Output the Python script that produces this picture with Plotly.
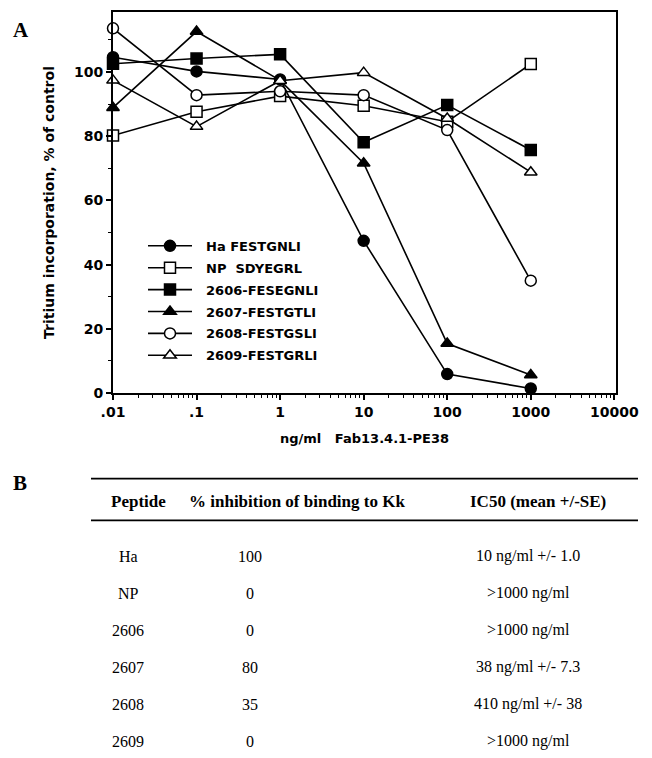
import plotly.graph_objects as go

# ---------------- data (panel A) ----------------
doses = [0.01, 0.1, 1, 10, 100, 1000]
series_names = ["Ha FESTGNLI", "NP\u00a0 SDYEGRL", "2606-FESEGNLI",
                "2607-FESTGTLI", "2608-FESTGSLI", "2609-FESTGRLI"]
ha_vals = [104.6, 100.2, 97.7, 47.4, 5.9, 1.4]
np_vals = [80.2, 87.6, 92.5, 89.5, 84.5, 102.5]
p2606_vals = [102.6, 104.2, 105.5, 78.1, 89.7, 75.7]
p2607_vals = [88.9, 112.6, 97.4, 71.6, 15.4, 5.6]
p2608_vals = [113.6, 92.8, 94.0, 92.8, 81.9, 35.0]
p2609_vals = [97.4, 83.0, 97.3, 99.8, 85.5, 68.8]

x_tickvals = [0.01, 0.1, 1, 10, 100, 1000, 10000]
x_ticktext = [".01", ".1", "1", "10", "100", "1000", "10000"]
y_tickvals = [0, 20, 40, 60, 80, 100]

# ---------------- data (panel B table) ----------------
table_header = ["Peptide", "% inhibition of binding to Kk", "IC50 (mean +/-SE)"]
peptides = ["Ha", "NP", "2606", "2607", "2608", "2609"]
inhibition = ["100", "0", "0", "80", "35", "0"]
ic50 = ["10 ng/ml +/- 1.0", ">1000 ng/ml", ">1000 ng/ml",
        "38 ng/ml +/- 7.3", "410 ng/ml +/- 38", ">1000 ng/ml"]

# ---------------- styles ----------------
all_vals = [ha_vals, np_vals, p2606_vals, p2607_vals, p2608_vals, p2609_vals]
symbols = ["circle", "square", "square", "triangle-up", "circle", "triangle-up"]
fills = ["black", "white", "black", "black", "white", "white"]
sizes = [11, 11, 11, 11, 11, 11]

W, H = 652, 758
L, R, T, B = 113, 616, 10, 393


def px(x):
    return (x - L) / (R - L)


def py(y):
    return (B - y) / (B - T)


SANS = "DejaVu Sans"
SERIF = "Liberation Serif"
PAD = "\u00a0\u00a0"

fig = go.Figure()
for i, (name, vals) in enumerate(zip(series_names, all_vals)):
    fig.add_trace(go.Scatter(
        x=doses, y=vals, name=PAD + name, mode="lines+markers",
        legendgroup=f"g{i}",
        line=dict(color="black", width=1.6),
        marker=dict(symbol=symbols[i], size=sizes[i], color=fills[i],
                    line=dict(color="black", width=1.5)),
        cliponaxis=False,
    ))

fig.update_layout(
    width=W, height=H,
    margin=dict(l=L, r=W - R, t=T, b=H - B, pad=0),
    paper_bgcolor="white", plot_bgcolor="white",
    font=dict(family=SANS, color="black", size=13, weight="bold"),
    showlegend=True,
    legend=dict(x=px(143), y=py(230), xanchor="left", yanchor="top",
                bgcolor="rgba(0,0,0,0)", borderwidth=0,
                tracegroupgap=2, itemwidth=44,
                font=dict(family=SANS, size=13, weight="bold")),
    xaxis=dict(
        type="log", range=[-2, 4.02],
        tickmode="array", tickvals=x_tickvals, ticktext=x_ticktext,
        ticks="outside", ticklen=5, tickwidth=1.5, tickcolor="black",
        minor=dict(ticks="outside", ticklen=3, tickwidth=1, tickcolor="black",
                   dtick="D1", showgrid=False),
        showline=True, linecolor="black", linewidth=2, mirror=True,
        showgrid=False, zeroline=False,
        tickfont=dict(family=SANS, size=14, weight="bold"),
        title=dict(text="ng/ml\u00a0\u00a0\u00a0Fab13.4.1-PE38", standoff=15,
                   font=dict(family=SANS, size=13, weight="bold")),
    ),
    yaxis=dict(
        range=[0, 118.7],
        tickmode="array", tickvals=y_tickvals,
        ticks="outside", ticklen=5, tickwidth=1.5, tickcolor="black",
        minor=dict(ticks="outside", ticklen=3, tickwidth=1, tickcolor="black",
                   dtick=10, showgrid=False),
        showline=True, linecolor="black", linewidth=2, mirror=True,
        showgrid=False, zeroline=False,
        tickfont=dict(family=SANS, size=14, weight="bold"),
        title=dict(text="Tritium incorporation, % of control", standoff=16,
                   font=dict(family=SANS, size=14, weight="bold")),
    ),
)

annotations = []
# panel letters
annotations.append(dict(text="A", x=px(21), y=py(28), xref="paper", yref="paper",
                        showarrow=False, xanchor="center", yanchor="middle",
                        font=dict(family=SERIF, size=21, weight="bold")))
annotations.append(dict(text="B", x=px(20), y=py(483), xref="paper", yref="paper",
                        showarrow=False, xanchor="center", yanchor="middle",
                        font=dict(family=SERIF, size=21, weight="bold")))

# table header
header_x = [138, 297, 538]
for hx, txt in zip(header_x, table_header):
    annotations.append(dict(text=txt, x=px(hx), y=py(502), xref="paper", yref="paper",
                            showarrow=False, xanchor="center", yanchor="middle",
                            font=dict(family=SERIF, size=17, weight="bold")))

# table rows
col_x = [128, 250, 528]
row_y0, row_dy = 557, 37.2
for i in range(len(peptides)):
    ry = row_y0 + i * row_dy
    for cx, txt in zip(col_x, [peptides[i], inhibition[i], ic50[i]]):
        annotations.append(dict(text=txt, x=px(cx), y=py(ry), xref="paper", yref="paper",
                                showarrow=False, xanchor="center", yanchor="middle",
                                font=dict(family=SERIF, size=16, weight="normal")))

fig.update_layout(annotations=annotations)

# table rules
shapes = []
for ly in [479, 521]:
    shapes.append(dict(type="line", xref="paper", yref="paper",
                       x0=px(91), x1=px(638), y0=py(ly), y1=py(ly),
                       line=dict(color="black", width=1.8)))
fig.update_layout(shapes=shapes)

fig.write_html("out.html",
               config={"displayModeBar": False},
               post_script="document.body.style.margin='0';"
                           "document.body.style.padding='0';")
